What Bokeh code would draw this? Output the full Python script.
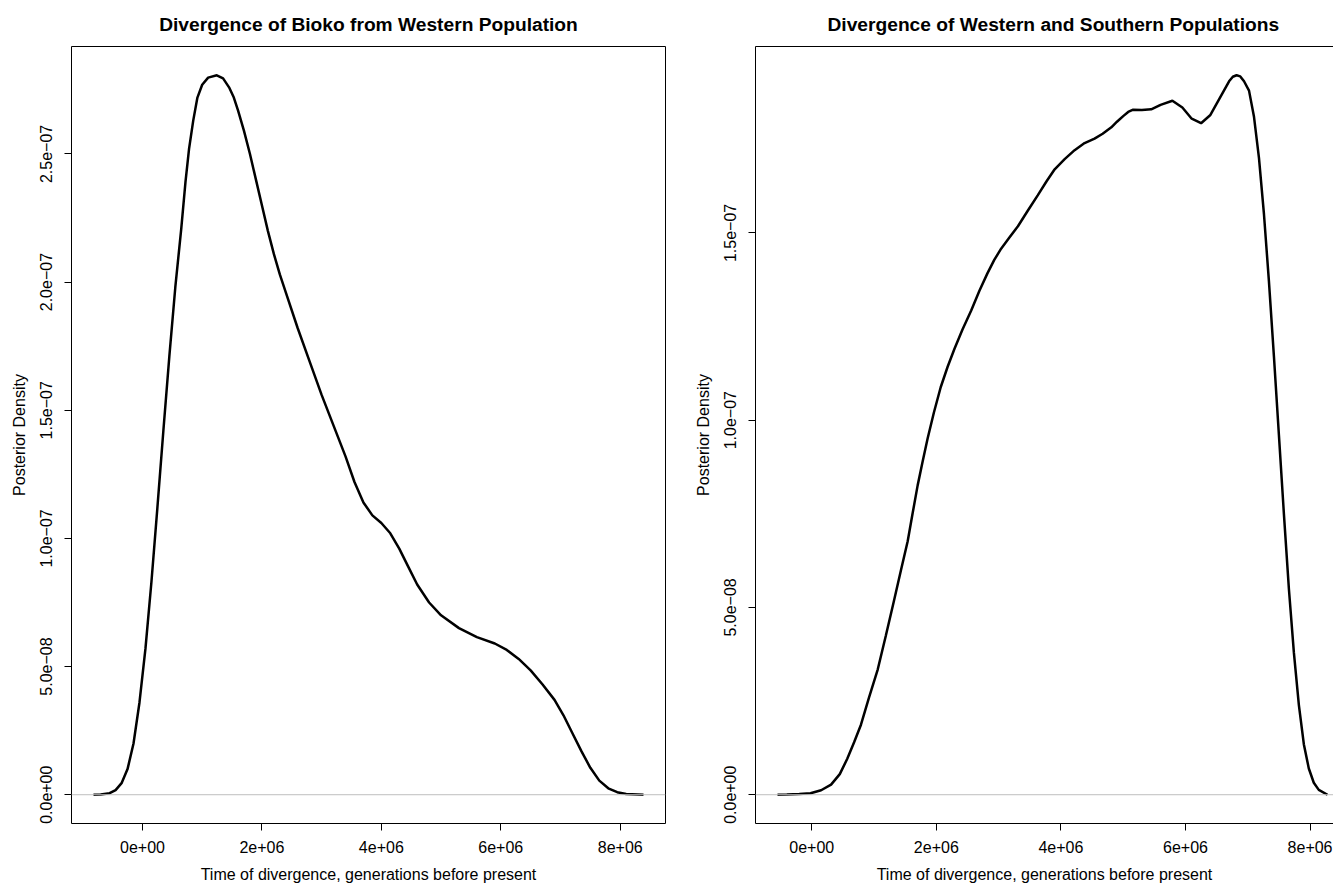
from bokeh.plotting import figure
from bokeh.layouts import row
from bokeh.models import Range1d, FixedTicker, Span, LinearAxis
from bokeh.embed import file_html
from bokeh.resources import INLINE

# ---------------- data (time in millions of generations, density in 1e-8) ----------------
bioko_time = [-0.82, -0.70, -0.55, -0.45, -0.35, -0.25, -0.15, -0.05, 0.05, 0.15, 0.25, 0.35,
              0.45, 0.55, 0.65, 0.72, 0.78, 0.85, 0.92, 1.00, 1.10, 1.245, 1.35, 1.45, 1.53,
              1.60, 1.70, 1.80, 1.90, 2.00, 2.10, 2.20, 2.30, 2.40, 2.60, 2.80, 3.00, 3.20,
              3.40, 3.55, 3.70, 3.85, 4.00, 4.15, 4.30, 4.45, 4.60, 4.80, 5.00, 5.30, 5.60,
              5.90, 6.10, 6.30, 6.50, 6.70, 6.90, 7.05, 7.20, 7.35, 7.50, 7.65, 7.80, 7.95,
              8.10, 8.39]
bioko_density = [0.00, 0.01, 0.06, 0.18, 0.45, 1.00, 2.00, 3.60, 5.70, 8.30, 11.2, 14.2,
                 17.1, 19.8, 22.1, 23.9, 25.2, 26.3, 27.2, 27.7, 27.98, 28.07, 27.95, 27.6, 27.2,
                 26.7, 25.9, 25.0, 24.0, 23.0, 22.0, 21.1, 20.3, 19.6, 18.2, 16.9, 15.6, 14.4,
                 13.2, 12.2, 11.4, 10.9, 10.6, 10.2, 9.6, 8.9, 8.2, 7.5, 7.0, 6.5, 6.15,
                 5.9, 5.65, 5.3, 4.85, 4.3, 3.7, 3.1, 2.4, 1.7, 1.05, 0.55, 0.25, 0.10,
                 0.03, 0.00]

ws_time = [-0.55, -0.40, -0.20, -0.02, 0.15, 0.31, 0.45, 0.57, 0.68, 0.79, 0.92, 1.06, 1.19,
           1.32, 1.43, 1.54, 1.62, 1.70, 1.78, 1.86, 1.96, 2.07, 2.18, 2.29, 2.42, 2.56,
           2.69, 2.82, 2.93, 3.04, 3.17, 3.31, 3.47, 3.63, 3.77, 3.90, 4.06, 4.22, 4.38,
           4.54, 4.67, 4.81, 4.90, 5.00, 5.08, 5.16, 5.30, 5.45, 5.60, 5.79, 5.95, 6.10,
           6.25, 6.40, 6.55, 6.70, 6.76, 6.82, 6.88, 6.94, 7.02, 7.10, 7.18, 7.26, 7.34,
           7.42, 7.50, 7.58, 7.66, 7.74, 7.82, 7.90, 7.98, 8.06, 8.14, 8.28]
ws_density = [0.00, 0.005, 0.02, 0.04, 0.12, 0.27, 0.55, 0.96, 1.40, 1.87, 2.60, 3.35, 4.25,
              5.18, 5.98, 6.77, 7.52, 8.26, 8.90, 9.51, 10.2, 10.88, 11.42, 11.90, 12.42, 12.93,
              13.45, 13.92, 14.28, 14.58, 14.87, 15.18, 15.60, 16.01, 16.38, 16.70, 16.97, 17.21, 17.40,
              17.52, 17.65, 17.82, 17.97, 18.12, 18.23, 18.29, 18.28, 18.30, 18.42, 18.53, 18.35, 18.05,
              17.93, 18.15, 18.6, 19.05, 19.17, 19.21, 19.18, 19.05, 18.8, 18.1, 17.0, 15.5, 13.7,
              11.7, 9.6, 7.5, 5.5, 3.8, 2.4, 1.35, 0.70, 0.32, 0.13, 0.00]

x_ticks = [0, 2e6, 4e6, 6e6, 8e6]
x_tick_labels = ["0e+00", "2e+06", "4e+06", "6e+06", "8e+06"]
left_y_ticks = [0, 5e-8, 1e-7, 1.5e-7, 2e-7, 2.5e-7]
left_y_tick_labels = ["0.0e+00", "5.0e\u221208", "1.0e\u221207", "1.5e\u221207", "2.0e\u221207", "2.5e\u221207"]
right_y_ticks = [0, 5e-8, 1e-7, 1.5e-7]
right_y_tick_labels = ["0.0e+00", "5.0e\u221208", "1.0e\u221207", "1.5e\u221207"]

titles = ["Divergence of Bioko from Western Population",
          "Divergence of Western and Southern Populations"]
x_label = "Time of divergence, generations before present"
y_label = "Posterior Density"

FONT = "Liberation Sans"
H = 886


def ext(vals):
    lo, hi = min(vals), max(vals)
    d = (hi - lo) * 0.04
    return lo - d, hi + d


def make_panel(times, dens, yt, ytl, title, width, frame_w, full_frame_w, left_border,
               right_border, boxed, title_align, title_offset):
    xs = [t * 1e6 for t in times]
    ys = [d * 1e-8 for d in dens]
    x0, x1 = ext(xs)
    y0, y1 = ext(ys)
    x1v = x0 + (x1 - x0) * frame_w / full_frame_w
    p = figure(width=width, height=H, x_range=Range1d(x0, x1v), y_range=Range1d(y0, y1),
               output_backend="svg", toolbar_location=None,
               min_border_left=left_border, min_border_right=right_border,
               min_border_top=46, min_border_bottom=63)
    p.grid.visible = False
    p.background_fill_color = "white"
    p.border_fill_color = "white"
    if boxed:
        p.outline_line_color = "black"
        p.outline_line_width = 1
        p.outline_line_alpha = 1
    else:
        p.outline_line_color = None

    p.title.text = title
    p.title.align = title_align
    p.title.offset = title_offset
    p.title.text_font = FONT
    p.title.text_font_size = "19.2px"
    p.title.text_font_style = "bold"
    p.title.text_color = "black"
    p.title.standoff = 23

    ax = p.xaxis[0]
    ax.ticker = FixedTicker(ticks=x_ticks)
    ax.major_label_overrides = {t: l for t, l in zip(x_ticks, x_tick_labels)}
    ay = p.yaxis[0]
    ay.ticker = FixedTicker(ticks=yt)
    ay.major_label_overrides = {t: l for t, l in zip(yt, ytl)}
    ay.major_label_orientation = "vertical"
    for a in (ax, ay):
        a.major_tick_out = 7
        a.major_tick_in = 0
        a.minor_tick_out = 0
        a.minor_tick_in = 0
        a.major_tick_line_color = "black"
        a.major_label_text_font = FONT
        a.major_label_text_font_size = "16px"
        a.major_label_text_color = "black"
        a.axis_line_color = None if boxed else "black"
        a.axis_label_text_font = FONT
        a.axis_label_text_font_size = "16px"
        a.axis_label_text_font_style = "normal"
        a.axis_label_text_color = "black"
    ax.major_label_standoff = 10
    ay.major_label_standoff = 12
    ax.axis_label = x_label
    ax.axis_label_standoff = 10
    ay.axis_label = y_label
    ay.axis_label_standoff = 10
    if not boxed:
        top = LinearAxis(ticker=FixedTicker(ticks=[]), major_label_text_font_size="0px",
                         major_label_standoff=0, major_tick_out=0, minor_tick_out=0,
                         axis_line_color="black")
        p.add_layout(top, "above")

    p.add_layout(Span(location=0, dimension="width", line_color="#BEBEBE", line_width=1))
    p.line(xs, ys, line_color="black", line_width=2.5)
    return p


p1 = make_panel(bioko_time, bioko_density, left_y_ticks, left_y_tick_labels, titles[0],
                684, 594, 594, 71, 19, True, "center", 0)
p2 = make_panel(ws_time, ws_density, right_y_ticks, right_y_tick_labels, titles[1],
                649, 578, 594, 71, 0, False, "left", 72)

layout = row(p1, p2)
open("out.html", "w").write(file_html(layout, INLINE))
